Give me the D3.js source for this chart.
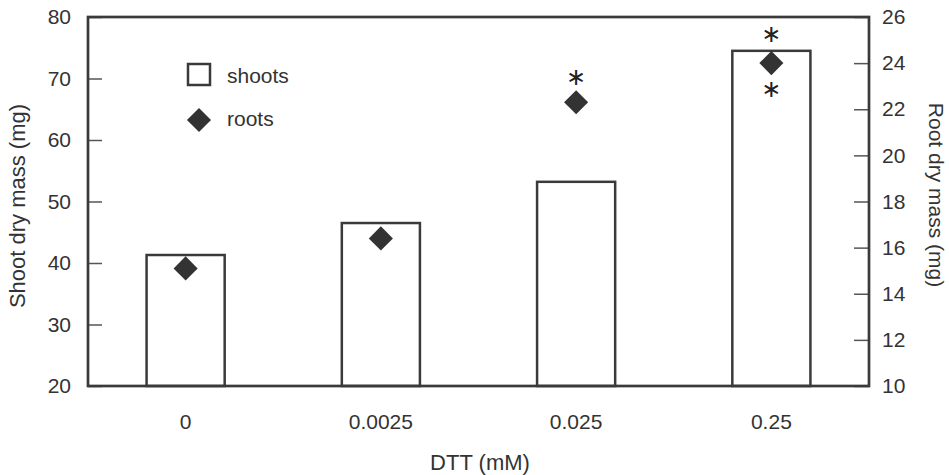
<!DOCTYPE html>
<html>
<head>
<meta charset="utf-8">
<script src="https://cdn.jsdelivr.net/npm/d3@7"></script>
<style>
  body { margin: 0; background: #fff; }
  text { font-family: "Liberation Sans", Arial, sans-serif; fill: #333; }
  text.sig { font-family: "DejaVu Sans", sans-serif; fill: #222; }
</style>
</head>
<body>
<svg id="chart"></svg>
<script>
// Data
const doses = ["0", "0.0025", "0.025", "0.25"];
const shoots = [41.3, 46.5, 53.2, 74.5];   // mg, left axis
const roots = [15.1, 16.4, 22.3, 24.0];    // mg, right axis
const shootSig = [false, false, false, true];
const rootSig = [null, null, "above", "below"];
const leftTicks = [20, 30, 40, 50, 60, 70, 80];
const rightTicks = [10, 12, 14, 16, 18, 20, 22, 24, 26];

// Dimensions
const W = 949, H = 475;
const margin = { top: 17, right: 80, bottom: 89, left: 88 };
const width = W - margin.left - margin.right;
const height = H - margin.top - margin.bottom;
const ink = "#3a3a3a";

const svg = d3.select("#chart")
    .attr("width", W)
    .attr("height", H);

const g = svg.append("g")
    .attr("transform", "translate(" + margin.left + "," + margin.top + ")");

// Scales
const x = d3.scaleBand()
    .domain(doses)
    .range([0, width])
    .paddingInner(0.6)
    .paddingOuter(0.3);

const yL = d3.scaleLinear().domain([20, 80]).range([height, 0]);
const yR = d3.scaleLinear().domain([10, 26]).range([height, 0]);

// Bars (shoots)
g.selectAll("rect.bar")
    .data(shoots)
    .enter().append("rect")
    .attr("class", "bar")
    .attr("x", (d, i) => x(doses[i]))
    .attr("y", d => yL(d))
    .attr("width", x.bandwidth())
    .attr("height", d => height - yL(d))
    .attr("fill", "#fff")
    .attr("stroke", ink)
    .attr("stroke-width", 2.5);

// Axes (ticks pointing inward)
const axL = g.append("g")
    .call(d3.axisLeft(yL).tickValues(leftTicks).tickSize(-14).tickSizeOuter(0).tickPadding(17));
const axR = g.append("g")
    .attr("transform", "translate(" + width + ",0)")
    .call(d3.axisRight(yR).tickValues(rightTicks).tickSize(-15).tickSizeOuter(0).tickPadding(13));

[axL, axR].forEach(ax => {
    ax.select(".domain").remove();
    ax.selectAll(".tick line").attr("stroke", "#555").attr("stroke-width", 1.5);
    ax.selectAll(".tick text")
        .style("font-size", "21px")
        .attr("fill", "#333");
});

// Frame
g.append("rect")
    .attr("width", width)
    .attr("height", height)
    .attr("fill", "none")
    .attr("stroke", ink)
    .attr("stroke-width", 2.7);

// X labels
g.selectAll("text.xlab")
    .data(doses)
    .enter().append("text")
    .attr("class", "xlab")
    .attr("x", d => x(d) + x.bandwidth() / 2)
    .attr("y", height + 43)
    .attr("text-anchor", "middle")
    .style("font-size", "21px")
    .text(d => d);

// Diamonds (roots)
const diamond = d3.symbol().type(d3.symbolSquare).size(290);
g.selectAll("path.root")
    .data(roots)
    .enter().append("path")
    .attr("class", "root")
    .attr("d", diamond)
    .attr("transform", (d, i) => "translate(" + (x(doses[i]) + x.bandwidth() / 2) + "," + yR(d) + ") rotate(45)")
    .attr("fill", "#333");

// Significance asterisks
function star(cx, cy) {
    g.append("text")
        .attr("class", "sig")
        .attr("x", cx)
        .attr("y", cy)
        .attr("dy", "0.3em")
        .attr("text-anchor", "middle")
        .style("font-size", "24px")
        .text("\u2217");
}
shoots.forEach((d, i) => {
    if (shootSig[i]) star(x(doses[i]) + x.bandwidth() / 2, yL(d) - 16);
});
roots.forEach((d, i) => {
    if (!rootSig[i]) return;
    star(x(doses[i]) + x.bandwidth() / 2, yR(d) + (rootSig[i] === "above" ? -25 : 27));
});

// Axis titles
svg.append("text")
    .attr("transform", "translate(25," + (margin.top + 189) + ") rotate(-90)")
    .attr("text-anchor", "middle")
    .style("font-size", "22px")
    .text("Shoot dry mass (mg)");

svg.append("text")
    .attr("transform", "translate(929," + (margin.top + 178) + ") rotate(90)")
    .attr("text-anchor", "middle")
    .style("font-size", "21px")
    .text("Root dry mass (mg)");

svg.append("text")
    .attr("x", 480)
    .attr("y", 470)
    .attr("text-anchor", "middle")
    .style("font-size", "22px")
    .text("DTT (mM)");

// Legend
const legend = svg.append("g");
legend.append("rect")
    .attr("x", 188).attr("y", 64)
    .attr("width", 22).attr("height", 21)
    .attr("fill", "#fff")
    .attr("stroke", ink)
    .attr("stroke-width", 2.5);
legend.append("text")
    .attr("x", 227).attr("y", 83)
    .style("font-size", "21px")
    .text("shoots");
legend.append("path")
    .attr("d", diamond)
    .attr("transform", "translate(199,120) rotate(45)")
    .attr("fill", "#333");
legend.append("text")
    .attr("x", 227).attr("y", 126)
    .style("font-size", "21px")
    .text("roots");
</script>
</body>
</html>
